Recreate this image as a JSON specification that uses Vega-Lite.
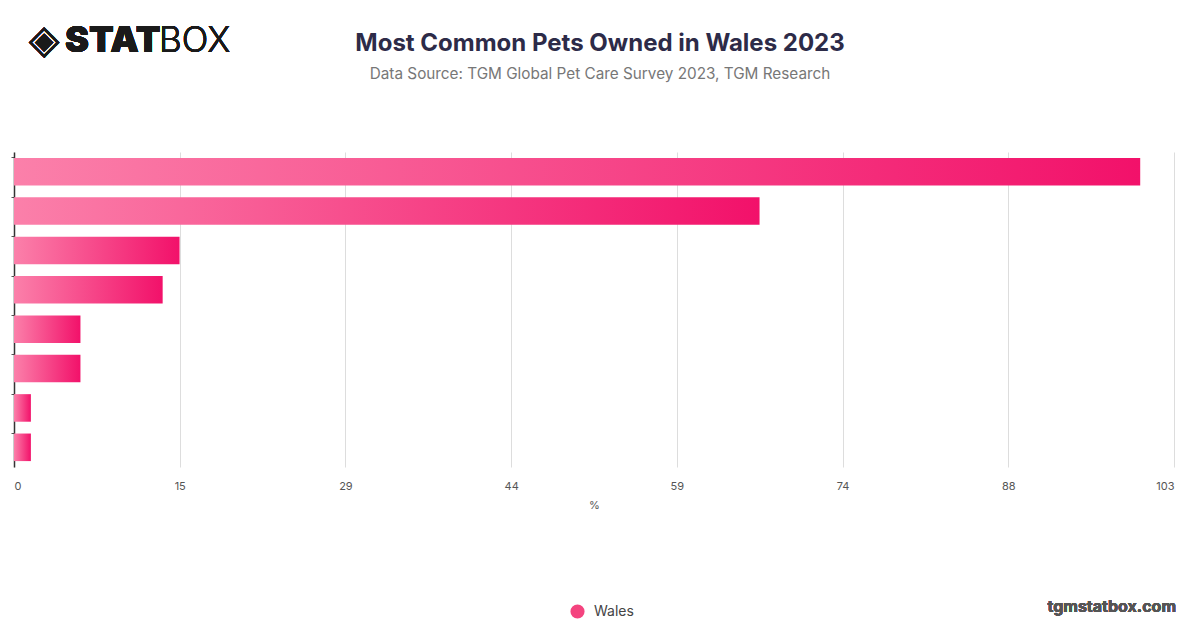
{
  "$schema": "https://vega.github.io/schema/vega-lite/v6.json",
  "autosize": {"type": "none"},
  "width": 1160,
  "height": 315,
  "padding": {"left": 14, "top": 152, "right": 26, "bottom": 161},
  "background": "white",
  "title": {
    "text": "Most Common Pets Owned in Wales 2023",
    "subtitle": "Data Source: TGM Global Pet Care Survey 2023, TGM Research",
    "anchor": "middle",
    "frame": "group",
    "dx": 6,
    "offset": -61,
    "font": "Inter",
    "fontSize": 24,
    "fontWeight": "bold",
    "color": "#2d2b48",
    "subtitleFont": "Inter",
    "subtitleFontSize": 15.3,
    "subtitleColor": "#777777",
    "subtitlePadding": 11
  },
  "config": {
    "view": {"stroke": null},
    "font": "Inter"
  },
  "data": {
    "values": [
      {"pet": "Dog", "value": 100, "series": "Wales"},
      {"pet": "Cat", "value": 66.2, "series": "Wales"},
      {"pet": "Fish", "value": 14.7, "series": "Wales"},
      {"pet": "Bird", "value": 13.2, "series": "Wales"},
      {"pet": "Rabbit", "value": 5.9, "series": "Wales"},
      {"pet": "Small mammal", "value": 5.9, "series": "Wales"},
      {"pet": "Reptile", "value": 1.5, "series": "Wales"},
      {"pet": "Other", "value": 1.5, "series": "Wales"}
    ]
  },
  "encoding": {
    "y": {
      "field": "pet",
      "type": "nominal",
      "sort": null,
      "scale": {"paddingInner": 0.3, "paddingOuter": 0.15},
      "axis": {
        "title": null,
        "labels": false,
        "domain": true,
        "domainColor": "#333333",
        "domainWidth": 1.5,
        "ticks": true,
        "tickColor": "#555555",
        "tickSize": 3,
        "bandPosition": 0,
        "grid": false
      }
    },
    "x": {
      "field": "value",
      "type": "quantitative",
      "scale": {"domain": [0, 103], "nice": false},
      "axis": {
        "title": "%",
        "values": [0, 14.7142857, 29.4285714, 44.1428571, 58.8571429, 73.5714286, 88.2857143, 103],
        "format": ".0f",
        "grid": true,
        "gridColor": "#dddddd",
        "ticks": false,
        "domain": false,
        "labelPadding": 13,
        "labelFontSize": 11,
        "labelColor": "#555555",
        "titleFontSize": 11,
        "titleFontWeight": "normal",
        "titleColor": "#555555",
        "titlePadding": 8
      }
    }
  },
  "layer": [
    {
      "mark": {
        "type": "bar",
        "color": {"gradient": "linear", "x1": 0, "y1": 0, "x2": 1, "y2": 0,
          "stops": [{"offset": 0, "color": "#fb80aa"}, {"offset": 1, "color": "#f2116a"}]}
      }
    },
    {
      "mark": {"type": "point", "filled": true, "opacity": 0},
      "encoding": {
        "color": {
          "field": "series",
          "type": "nominal",
          "scale": {"domain": ["Wales"], "range": ["#f4447f"]},
          "legend": {
            "title": null,
            "orient": "none",
            "legendX": 556,
            "legendY": 452,
            "symbolType": "circle",
            "symbolSize": 200,
            "symbolOpacity": 1,
            "symbolStrokeWidth": 0,
            "labelFontSize": 14,
            "labelColor": "#444444",
            "labelOffset": 9
          }
        }
      }
    },
    {
      "mark": {"type": "text", "text": "◈", "font": "DejaVu Sans", "fontSize": 40, "color": "#1a1a1a", "align": "center", "baseline": "middle", "clip": false},
      "encoding": {"x": {"value": 30}, "y": {"value": -111}}
    },
    {
      "mark": {"type": "text", "text": "STAT", "font": "Inter", "fontSize": 36, "fontWeight": 900, "color": "#1a1a1a", "align": "left", "baseline": "middle", "clip": false},
      "encoding": {"x": {"value": 51}, "y": {"value": -111}}
    },
    {
      "mark": {"type": "text", "text": "BOX", "font": "Inter", "fontSize": 35, "fontWeight": 300, "color": "#1a1a1a", "align": "left", "baseline": "middle", "clip": false},
      "encoding": {"x": {"value": 145}, "y": {"value": -111}}
    },
    {
      "mark": {"type": "text", "text": "tgmstatbox.com", "font": "Inter", "fontSize": 16, "fontWeight": "bold", "color": "#555555", "align": "right", "baseline": "middle", "clip": false},
      "encoding": {"x": {"value": 1162}, "y": {"value": 455}}
    }
  ]
}
